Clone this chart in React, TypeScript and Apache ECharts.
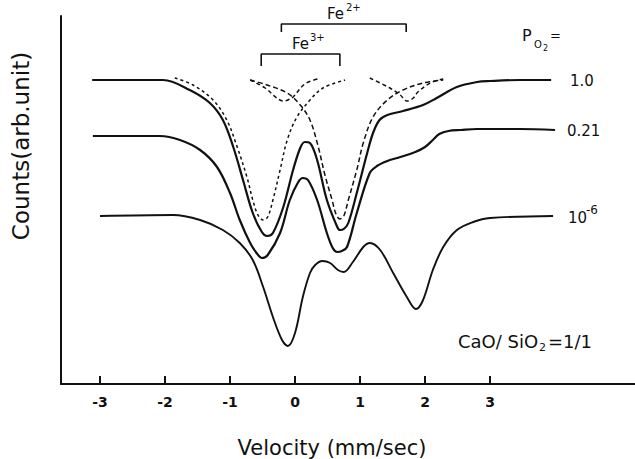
import React, { useEffect, useRef } from "react";
import * as echarts from "echarts";

// Velocity tick labels (mm/sec)
const TICKS = [-3, -2, -1, 0, 1, 2, 3];

// Measured spectra [velocity, counts (arb.)]
const SPEC_P1 = [[-3.12,304],[-2.54,304],[-2.03,304],[-1.62,294],[-1.31,281],[-1.11,264],[-0.95,237],[-0.80,204],[-0.65,171],[-0.51,152],[-0.43,148],[-0.34,151],[-0.18,177],[-0.03,214],[0.08,236],[0.15,242],[0.23,241],[0.34,224],[0.49,184],[0.65,157],[0.69,154],[0.75,155],[0.82,161],[0.95,191],[1.11,231],[1.20,251],[1.30,264],[1.42,269],[1.66,273],[1.97,279],[2.18,286],[2.49,297],[2.80,302],[3.00,303],[3.46,304],[3.94,304]];
const SPEC_P021 = [[-3.11,248],[-2.08,248],[-1.77,244],[-1.46,234],[-1.20,217],[-1.00,191],[-0.85,164],[-0.69,141],[-0.58,130],[-0.51,126],[-0.42,129],[-0.23,151],[-0.08,184],[0.05,202],[0.12,206],[0.20,204],[0.34,184],[0.49,151],[0.58,136],[0.65,132],[0.72,133],[0.80,137],[0.95,171],[1.15,211],[1.26,218],[1.42,223],[1.62,227],[1.85,232],[2.00,237],[2.12,244],[2.22,250],[2.36,253],[2.55,254],[2.80,255],[3.46,255],[4.00,254]];
const SPEC_P1E6 = [[-3.00,168],[-1.88,169],[-1.46,164],[-1.11,154],[-0.85,141],[-0.65,124],[-0.49,97],[-0.34,67],[-0.20,44],[-0.11,38],[0.00,51],[0.12,87],[0.23,111],[0.31,119],[0.42,123],[0.54,121],[0.66,114],[0.75,112],[0.89,122],[1.05,137],[1.15,141],[1.31,134],[1.51,111],[1.72,87],[1.86,75],[1.97,84],[2.12,114],[2.28,137],[2.49,154],[2.74,162],[3.00,166],[3.97,168]];

// Fitted components for P_O2 = 1.0
const FE3_A = [[-1.85,306],[-1.57,299],[-1.26,284],[-1.05,264],[-0.89,237],[-0.74,207],[-0.65,184],[-0.57,169],[-0.49,164],[-0.42,167],[-0.34,184],[-0.23,214],[-0.12,244],[0.03,267],[0.23,284],[0.43,296],[0.77,304]];
const FE3_B = [[-0.69,304],[-0.43,299],[-0.12,291],[0.08,279],[0.23,264],[0.35,239],[0.46,209],[0.57,184],[0.63,170],[0.69,165],[0.75,168],[0.82,184],[0.95,214],[1.05,241],[1.20,267],[1.42,284],[1.66,294],[1.97,301],[2.28,304]];
const FE2_C = [[-0.69,304],[-0.46,296],[-0.28,286],[-0.18,283],[-0.11,284],[-0.03,287],[0.15,300],[0.35,305]];
const FE2_D = [[1.15,306],[1.46,296],[1.62,289],[1.72,283],[1.82,286],[1.89,292],[2.08,301],[2.28,305]];

// Doublet brackets
const BRACKET_FE3 = [[-0.52,318],[-0.52,330],[0.69,330],[0.69,318]];
const BRACKET_FE2 = [[-0.21,352],[-0.21,360],[1.71,360],[1.71,352]];

const FONT = "DejaVu Sans";

function txt(text: string, x: number, y: number, size: number, align = "left", extra: any = {}) {
  return {
    type: "text",
    x,
    y,
    ...extra,
    style: {
      text,
      fontSize: size,
      fontFamily: FONT,
      fill: "#111",
      textAlign: align,
      textVerticalAlign: "middle",
    },
  };
}

export default function App() {
  const ref = useRef<HTMLDivElement>(null);
  useEffect(() => {
    if (!ref.current) return;
    const chart = echarts.init(ref.current, null, { renderer: "svg" });
    const solid = (name: string, data: number[][], w: number) => ({
      name,
      type: "line",
      data,
      smooth: 0.35,
      showSymbol: false,
      symbol: "none",
      lineStyle: { color: "#111", width: w },
    });
    const dashed = (name: string, data: number[][], dash: number[]) => ({
      name,
      type: "line",
      data,
      smooth: 0.35,
      showSymbol: false,
      symbol: "none",
      lineStyle: { color: "#111", width: 1.5, type: dash },
    });
    const bracket = (name: string, data: number[][]) => ({
      name,
      type: "line",
      data,
      smooth: false,
      showSymbol: false,
      symbol: "none",
      lineStyle: { color: "#111", width: 1.6 },
    });
    chart.setOption({
      animation: false,
      backgroundColor: "#fff",
      grid: { left: 61, right: 0, top: 16, bottom: 75, containLabel: false },
      xAxis: {
        type: "value",
        min: -3.6,
        max: 5.23,
        axisLine: { show: true, onZero: false, lineStyle: { color: "#111", width: 2 } },
        axisTick: { show: true, inside: true, length: 8, customValues: TICKS, lineStyle: { color: "#111", width: 2 } },
        axisLabel: {
          show: true,
          customValues: TICKS,
          margin: 11,
          fontSize: 14,
          fontWeight: "bold",
          fontFamily: FONT,
          color: "#111",
          formatter: (v: number) => String(v),
        },
        splitLine: { show: false },
      },
      yAxis: {
        type: "value",
        min: 0,
        max: 368,
        axisLine: { show: true, onZero: false, lineStyle: { color: "#111", width: 2 } },
        axisTick: { show: false },
        axisLabel: { show: false },
        splitLine: { show: false },
      },
      series: [
        solid("P_O2 = 1.0", SPEC_P1, 2.2),
        solid("P_O2 = 0.21", SPEC_P021, 2.2),
        solid("P_O2 = 10^-6", SPEC_P1E6, 1.9),
        dashed("Fe3+ (a)", FE3_A, [3, 3]),
        dashed("Fe3+ (b)", FE3_B, [5, 3]),
        dashed("Fe2+ (c)", FE2_C, [4, 3]),
        dashed("Fe2+ (d)", FE2_D, [4, 3]),
        bracket("Fe3+ bracket", BRACKET_FE3),
        bracket("Fe2+ bracket", BRACKET_FE2),
      ],
      graphic: [
        txt("Counts(arb.unit)", 21, 146, 23, "center", { rotation: Math.PI / 2 }),
        txt("Velocity (mm/sec)", 332, 448, 21, "center"),
        txt("Fe", 327, 14, 15),
        txt("2+", 346, 7, 10),
        txt("Fe", 292, 44, 15),
        txt("3+", 310, 37, 10),
        txt("P", 522, 35, 16),
        txt("O", 534, 44, 10),
        txt("2", 543, 48, 8),
        txt("=", 550, 35, 13),
        txt("1.0", 570, 81, 15),
        txt("0.21", 567, 131, 15),
        txt("10", 568, 218, 15),
        txt("-6", 586, 210, 12),
        txt("CaO/ SiO", 458, 341, 18),
        txt("2", 539, 347, 11),
        txt("=1/1", 548, 341, 18),
      ],
    });
    return () => chart.dispose();
  }, []);
  return (
    <div
      ref={ref}
      style={{ position: "fixed", left: 0, top: 0, width: 635, height: 459, background: "#fff" }}
    />
  );
}
